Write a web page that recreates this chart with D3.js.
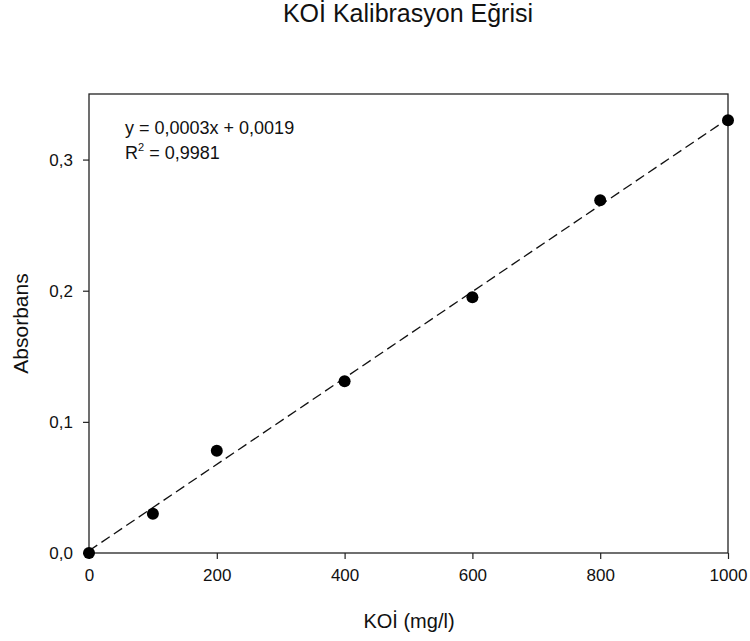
<!DOCTYPE html>
<html>
<head>
<meta charset="utf-8">
<script src="https://cdn.jsdelivr.net/npm/d3@7"></script>
<style>
  body { margin: 0; background: #fff; }
  text { font-family: "Liberation Sans", Arial, sans-serif; fill: #111; }
</style>
</head>
<body>
<script>
// values
var koi = [0, 100, 200, 400, 600, 800, 1000];
var absorbans = [0, 0.030, 0.078, 0.131, 0.195, 0.269, 0.330];
var xTicks = [0, 200, 400, 600, 800, 1000];
var yTicks = [0, 0.1, 0.2, 0.3];

var W = 750, H = 641;
var m = {left: 89, top: 94, right: 22, bottom: 88};

var svg = d3.select("body").append("svg").attr("width", W).attr("height", H);

var x = d3.scaleLinear().domain([0, 1000]).range([m.left, W - m.right]);
var y = d3.scaleLinear().domain([0, 0.35]).range([H - m.bottom, m.top]);
var fmt = function(d) { return d3.format(".1f")(d).replace(".", ","); };

// least squares fit for the dashed line
var mx = d3.mean(koi), my = d3.mean(absorbans);
var sxy = d3.sum(koi, function(v, i) { return (v - mx) * (absorbans[i] - my); });
var sxx = d3.sum(koi, function(v) { return (v - mx) * (v - mx); });
var slope = sxy / sxx, icpt = my - slope * mx;

// frame
svg.append("rect")
    .attr("x", x(0)).attr("y", y(0.35))
    .attr("width", x(1000) - x(0)).attr("height", y(0) - y(0.35))
    .attr("fill", "none").attr("stroke", "#222").attr("stroke-width", 1.3);

var xa = svg.append("g").attr("transform", "translate(0," + y(0) + ")")
    .call(d3.axisBottom(x).tickValues(xTicks).tickSize(6).tickPadding(10).tickFormat(d3.format("d")));
var ya = svg.append("g").attr("transform", "translate(" + x(0) + ",0)")
    .call(d3.axisLeft(y).tickValues(yTicks).tickSize(6).tickPadding(10).tickFormat(fmt));
[xa, ya].forEach(function(a) {
  a.select(".domain").remove();
  a.selectAll("line").attr("stroke", "#222").attr("stroke-width", 1.2);
  a.selectAll("text").attr("font-size", 17).attr("font-family", "Liberation Sans, Arial, sans-serif").attr("fill", "#111");
});

// regression line
svg.append("line")
    .attr("x1", x(0)).attr("y1", y(icpt))
    .attr("x2", x(1000)).attr("y2", y(slope * 1000 + icpt))
    .attr("stroke", "#111").attr("stroke-width", 1.3)
    .attr("stroke-dasharray", "10,5");

svg.selectAll("circle.pt").data(koi).enter().append("circle")
    .attr("class", "pt")
    .attr("cx", function(d) { return x(d); })
    .attr("cy", function(d, i) { return y(absorbans[i]); })
    .attr("r", 6)
    .attr("fill", "#000");

// texts
svg.append("text").attr("x", 408).attr("y", 22).attr("text-anchor", "middle")
    .attr("font-size", 25).text("KOİ Kalibrasyon Eğrisi");
svg.append("text").attr("x", 409).attr("y", 628).attr("text-anchor", "middle")
    .attr("font-size", 20).text("KOİ (mg/l)");
svg.append("text").attr("transform", "translate(28," + (y(0) + y(0.35)) / 2 + ") rotate(-90)")
    .attr("text-anchor", "middle").attr("font-size", 21).text("Absorbans");

svg.append("text").attr("x", 125).attr("y", 134).attr("font-size", 18)
    .text("y = 0,0003x + 0,0019");
var r2 = svg.append("text").attr("x", 125).attr("y", 159).attr("font-size", 18);
r2.append("tspan").text("R");
r2.append("tspan").attr("font-size", 11).attr("dy", -8).text("2");
r2.append("tspan").attr("dy", 8).text(" = 0,9981");
</script>
</body>
</html>
